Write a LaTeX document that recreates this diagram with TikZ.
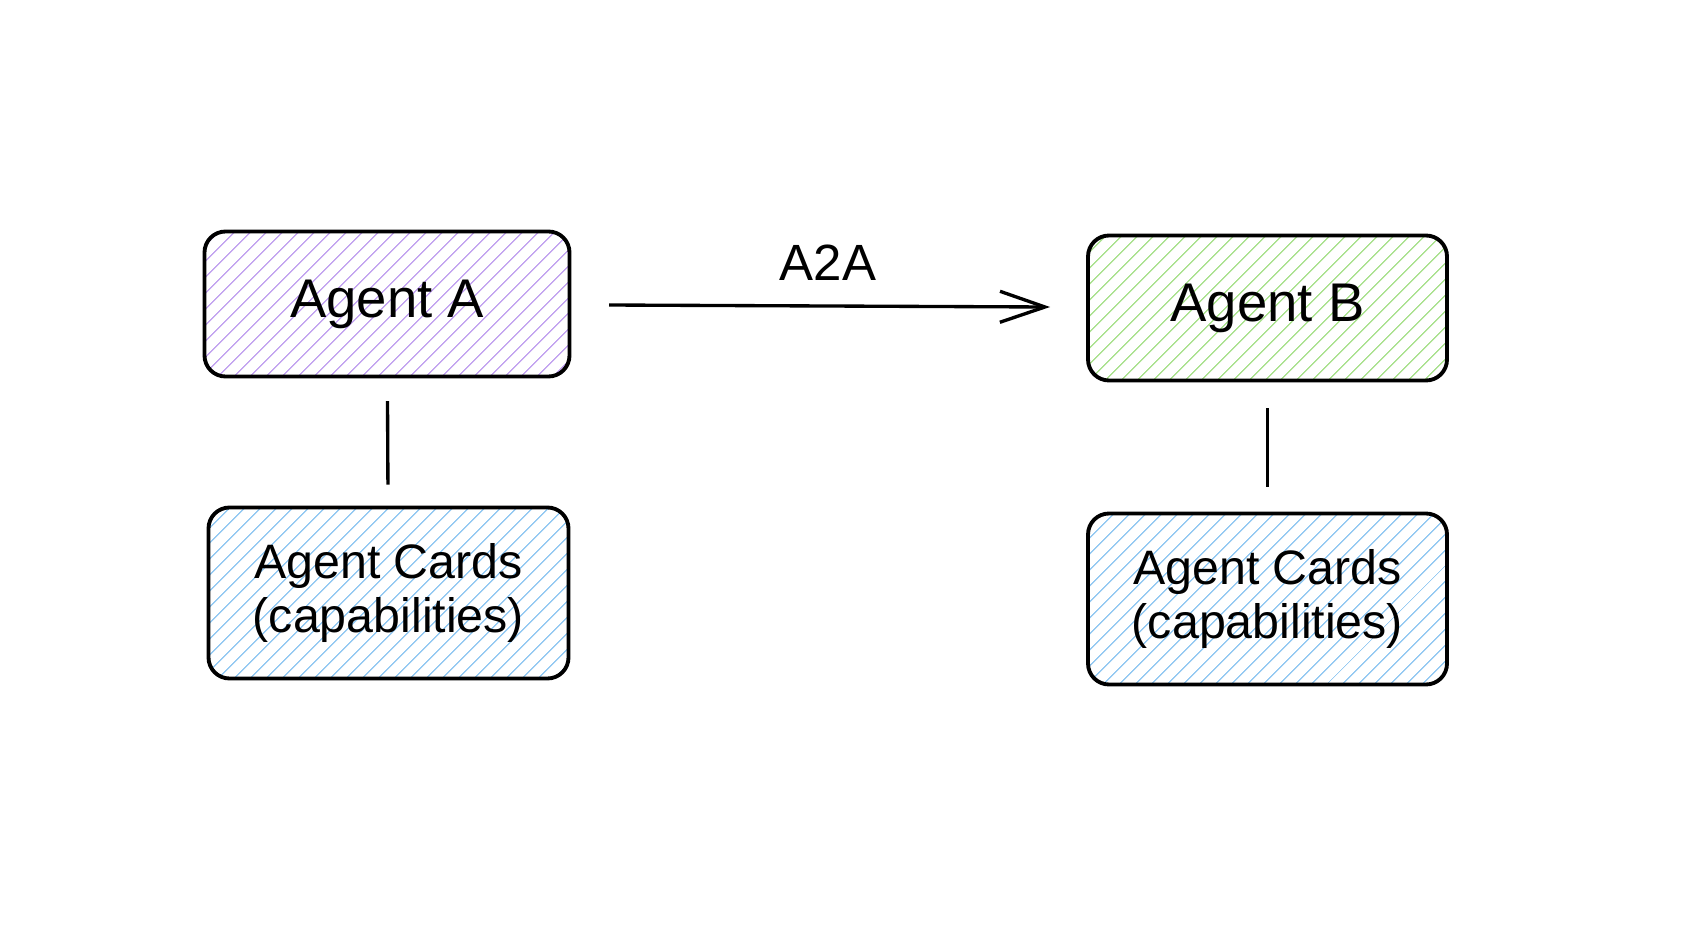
\documentclass[tikz,border=0pt]{standalone}
\usepackage{fontspec}
\setmainfont{Liberation Sans}
\usetikzlibrary{arrows.meta,patterns.meta}
\definecolor{hatchpurple}{RGB}{196,166,240}
\definecolor{hatchgreen}{RGB}{172,226,146}
\definecolor{hatchblue}{RGB}{150,202,242}
\begin{document}
\begin{tikzpicture}[
    agent/.style={rectangle, rounded corners=0.42cm, draw, line width=2.2pt, minimum width=7.3cm, minimum height=2.9cm, font=\fontsize{31}{33}\selectfont},
    card/.style={agent, minimum width=7.2cm, minimum height=3.42cm, align=center, font=\fontsize{27.5}{31}\selectfont},
    hatch/.style={pattern={Lines[angle=45, distance=6.4pt, line width=0.75pt]}, pattern color=#1},
    link/.style={line width=1.9pt},
    arrow/.style={link, -{Straight Barb[length=0.9cm, width=0.62cm, line width=1.9pt]}, font=\fontsize{29}{31}\selectfont}
]
\useasboundingbox (0,0) rectangle (33.84,-18.6);
\node[agent, hatch=hatchpurple] (agentA) at (7.74,-6.08) {Agent A};
\node[agent, hatch=hatchgreen, minimum width=7.18cm] (agentB) at (25.35,-6.16) {Agent B};
\node[card, hatch=hatchblue] (cardsA) at (7.77,-11.86) {Agent Cards\\(capabilities)};
\node[card, hatch=hatchblue, minimum width=7.18cm] (cardsB) at (25.35,-11.98) {Agent Cards\\(capabilities)};
\draw[arrow, shorten <=0.78cm, shorten >=0.72cm] (agentA) -- node[above=0.36cm]{A2A} (agentB);
\draw[link, shorten <=0.48cm, shorten >=0.42cm] (agentA) -- (cardsA);
\draw[link, shorten <=0.52cm, shorten >=0.5cm] (agentB) -- (cardsB);
\end{tikzpicture}
\end{document}
